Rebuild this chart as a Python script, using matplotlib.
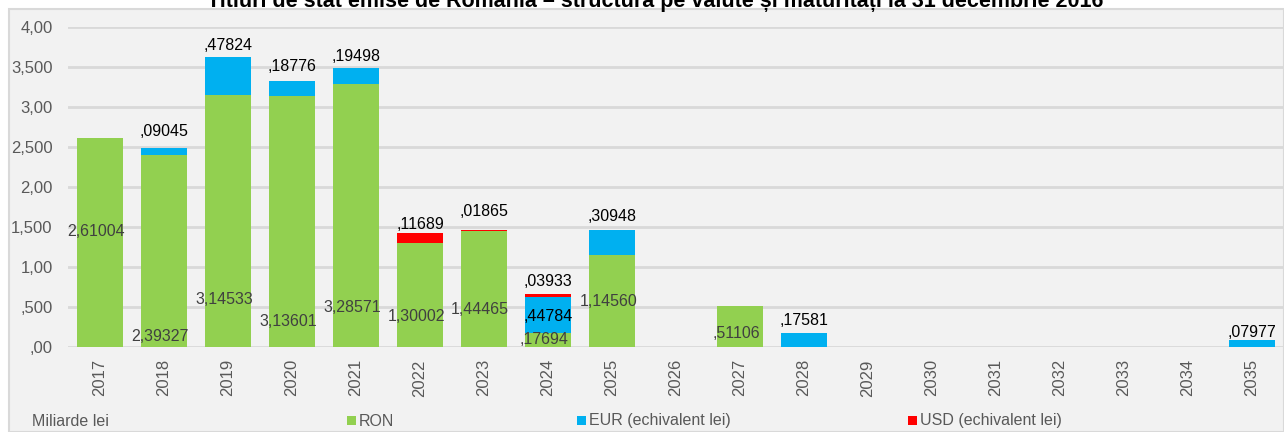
import matplotlib.pyplot as plt
from matplotlib.patches import Rectangle
import numpy as np

plt.rcParams['font.family'] = ['Liberation Sans', 'DejaVu Sans']

# Titluri de stat pe valute si maturitati (miliarde lei)
years = [str(y) for y in range(2017, 2036)]
ron = [2.61004, 2.39327, 3.14533, 3.13601, 3.28571, 1.30002, 1.44465, 0.17694, 1.14560,
       0, 0.51106, 0, 0, 0, 0, 0, 0, 0, 0]
eur = [0, 0.09045, 0.47824, 0.18776, 0.19498, 0, 0, 0.44784, 0.30948,
       0, 0, 0.17581, 0, 0, 0, 0, 0, 0, 0.07977]
usd = [0, 0, 0, 0, 0, 0.11689, 0.01865, 0.03933, 0,
       0, 0, 0, 0, 0, 0, 0, 0, 0, 0]

# where the (hand-moved) data labels sit, in axis units
ron_lab_y = [1.44, 0.125, 0.59, 0.32, 0.49, 0.375, 0.46, 0.084, 0.56,
             None, 0.17, None, None, None, None, None, None, None, None]
eur_lab_y = [None, 2.69, 3.77, 3.50, 3.63, None, None, 0.38, 1.63,
             None, None, 0.33, None, None, None, None, None, None, 0.18]
usd_lab_y = [None, None, None, None, None, 1.53, 1.69, 0.81, None,
             None, None, None, None, None, None, None, None, None, None]

yticks = [0, 0.5, 1, 1.5, 2, 2.5, 3, 3.5, 4]
ytick_labels = [',00', ',500', '1,00', '1,500', '2,00', '2,500', '3,00', '3,500', '4,00']

c_ron, c_eur, c_usd = '#92D050', '#00B0F0', '#FF0000'


def fmt(v):
    s = f'{v:.5f}'.replace('.', ',')
    return s[1:] if s.startswith('0') else s


fig = plt.figure(figsize=(12.84, 4.32), dpi=100)
fig.patches.append(Rectangle((8.5 / 1284, 0), 1 - 8.5 / 1284, 1 - 9 / 432,
                             transform=fig.transFigure, facecolor='#F2F2F2',
                             edgecolor='#D9D9D9', lw=1.5, zorder=-10))

ax = fig.add_axes([68 / 1284, 1 - 346.7 / 432, 1 - 68 / 1284, 320 / 432])
ax.set_facecolor('none')

x = np.arange(len(years))
w = 0.72
ron = np.array(ron)
eur = np.array(eur)
usd = np.array(usd)
ax.bar(x, ron, w, color=c_ron, zorder=2)
ax.bar(x, eur, w, bottom=ron, color=c_eur, zorder=2)
ax.bar(x, usd, w, bottom=ron + eur, color=c_usd, zorder=2)

for i in range(len(years)):
    if ron_lab_y[i] is not None:
        ax.text(x[i] - 0.06, ron_lab_y[i], fmt(ron[i]), ha='center', va='center',
                fontsize=11.5, color='#404040', zorder=3)
    if eur_lab_y[i] is not None:
        ax.text(x[i], eur_lab_y[i], fmt(eur[i]), ha='center', va='center',
                fontsize=11.5, color='black', zorder=3)
    if usd_lab_y[i] is not None:
        ax.text(x[i], usd_lab_y[i], fmt(usd[i]), ha='center', va='center',
                fontsize=11.5, color='black', zorder=3)

ax.set_xlim(-0.5, len(years) - 0.5)
ax.set_ylim(0, 4)
ax.set_yticks(yticks)
ax.set_yticklabels(ytick_labels)
ax.set_xticks(x)
ax.set_xticklabels(years, rotation=90)
ax.tick_params(axis='both', length=0, labelsize=12, labelcolor='#595959')
ax.tick_params(axis='x', pad=9)
ax.tick_params(axis='y', pad=11)
ax.grid(axis='y', color='#D9D9D9', lw=2, zorder=1)
ax.set_axisbelow(True)
for s in ax.spines.values():
    s.set_visible(False)

# title (top cut off like in the original)
fig.text(655 / 1284, 1 - 7 / 432,
         'Titluri de stat emise de România – structura pe valute și maturități la 31 decembrie 2016',
         ha='center', va='baseline', fontsize=15.5, fontweight='bold', color='black')

# bottom legend
fig.text(32 / 1284, 1 - 421 / 432, 'Miliarde lei', ha='left', va='center',
         fontsize=11.5, color='#595959')
for xm, lab, col in [(347, 'RON', c_ron), (577, 'EUR (echivalent lei)', c_eur),
                     (908, 'USD (echivalent lei)', c_usd)]:
    fig.patches.append(Rectangle((xm / 1284, 1 - 425 / 432), 9 / 1284, 9 / 432,
                                 transform=fig.transFigure, facecolor=col,
                                 edgecolor='none', zorder=1))
    fig.text((xm + 12) / 1284, 1 - 421 / 432, lab, ha='left', va='center',
             fontsize=11.5, color='#595959')

fig.savefig('out.png', dpi=100)
